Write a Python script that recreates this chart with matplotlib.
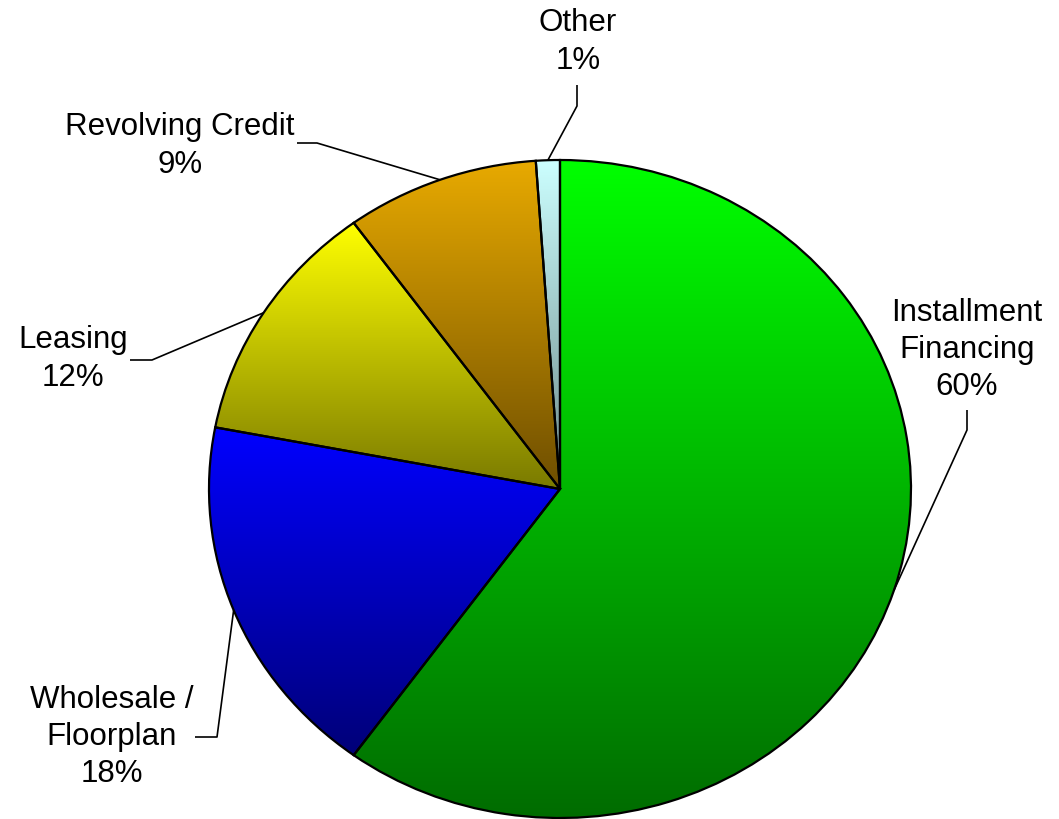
import numpy as np
import matplotlib
matplotlib.use('Agg')
import matplotlib.pyplot as plt
from matplotlib.colors import to_rgb

# ---- data ----
categories = ['Installment\nFinancing', 'Wholesale /\nFloorplan', 'Leasing', 'Revolving Credit', 'Other']
shares = [60.0, 18.0, 12.0, 8.9, 1.1]
pct_labels = ['60%', '18%', '12%', '9%', '1%']
top_colors = ['#00FF00', '#0000FF', '#FFFF00', '#E8AA00', '#CCFFFF']
bottom_colors = ['#006C00', '#000078', '#7A7A00', '#6E4E00', '#6E8A8A']

# ---- layout (pixels) ----
W, H = 1059, 819
cx, cy, rx, ry = 560, 489, 351, 329
label_pos = [(967, 350), (112, 737), (73, 359), (180, 146), (578, 42)]
leader_pts = [[(967, 410), (967, 430)],
              [(195, 737), (217, 737)],
              [(130, 360), (152, 360)],
              [(297, 143), (317, 143)],
              [(577, 85), (577, 106)]]


def P(px, py):
    return ((px - cx) / rx, (cy - py) / ry)


plt.rcParams['font.family'] = ['Liberation Sans', 'DejaVu Sans']
fig = plt.figure(figsize=(W / 100, H / 100), dpi=100)
ax = fig.add_axes([0, 0, 1, 1])

wedges, _ = ax.pie(shares, startangle=90, counterclock=False, radius=1, center=(0, 0))

for w, tc, bc in zip(wedges, top_colors, bottom_colors):
    ext = w.get_path().get_extents()
    t = np.array(to_rgb(tc))
    b = np.array(to_rgb(bc))
    f = np.linspace(0, 1, 256)[:, None]
    grad = (t[None, :] * (1 - f) + b[None, :] * f)[:, None, :]
    im = ax.imshow(grad, extent=(ext.x0, ext.x1, ext.y0, ext.y1), origin='upper',
                   aspect='auto', interpolation='bilinear', zorder=1)
    im.set_clip_path(w)
    w.set_facecolor('none')
    w.set_edgecolor('black')
    w.set_linewidth(1.6)
    w.set_zorder(3)

ax.set_aspect('auto')
ax.set_xlim(-cx / rx, (W - cx) / rx)
ax.set_ylim(-(H - cy) / ry, cy / ry)
ax.axis('off')

for w, cat, pct, (lx, ly), pts in zip(wedges, categories, pct_labels, label_pos, leader_pts):
    ax.text(*P(lx, ly), f'{cat}\n{pct}', ha='center', va='center', multialignment='center',
            fontsize=22.5, linespacing=1.31, color='black', zorder=5)
    mid = np.deg2rad((w.theta1 + w.theta2) / 2)
    ex, ey = np.cos(mid), np.sin(mid)
    xs = [P(*p)[0] for p in pts] + [ex]
    ys = [P(*p)[1] for p in pts] + [ey]
    ax.plot(xs, ys, color='black', lw=1.2, zorder=4, solid_capstyle='butt')

fig.savefig('out.png', dpi=100, facecolor='white')
